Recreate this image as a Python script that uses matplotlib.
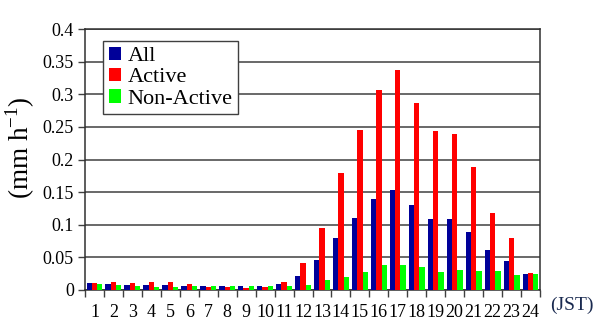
import numpy as np
import matplotlib.pyplot as plt

plt.rcParams['font.family'] = ['Liberation Serif', 'DejaVu Serif']

hours = list(range(1, 25))
all_rate = [0.011, 0.0097, 0.0082, 0.008, 0.008, 0.0066, 0.0066, 0.0066, 0.0066, 0.0066,
            0.0097, 0.0215, 0.046, 0.080, 0.110, 0.140, 0.153, 0.130, 0.109, 0.109,
            0.089, 0.062, 0.044, 0.0245]
active_rate = [0.011, 0.0128, 0.011, 0.0128, 0.0128, 0.0097, 0.005, 0.005, 0.0036, 0.005,
               0.0128, 0.042, 0.095, 0.179, 0.245, 0.307, 0.337, 0.286, 0.243, 0.239,
               0.1885, 0.118, 0.080, 0.026]
nonactive_rate = [0.0092, 0.0077, 0.0066, 0.005, 0.005, 0.0066, 0.0066, 0.0066, 0.0066, 0.0066,
                  0.0066, 0.008, 0.015, 0.020, 0.0276, 0.038, 0.038, 0.035, 0.0276, 0.0306,
                  0.029, 0.029, 0.023, 0.0245]
yticks = [0, 0.05, 0.1, 0.15, 0.2, 0.25, 0.3, 0.35, 0.4]
ytick_labels = ['0', '0.05', '0.1', '0.15', '0.2', '0.25', '0.3', '0.35', '0.4']

fig = plt.figure(figsize=(5.94, 3.21), dpi=100)
ax = fig.add_axes([85/594, 1-290/321, 455/594, 261/321])

x = np.arange(len(hours))
w = 0.28
ax.bar(x - w, all_rate, w, color='#000099', label='All', zorder=3)
ax.bar(x, active_rate, w, color='#ff0000', label='Active', zorder=3)
ax.bar(x + w, nonactive_rate, w, color='#00ff00', label='Non-Active', zorder=3)

ax.set_xlim(-0.5, len(hours) - 0.5)
ax.set_ylim(0, 0.4)
ax.set_yticks(yticks)
ax.set_yticklabels(ytick_labels, fontsize=13)
ax.yaxis.grid(True, color='#404040', linewidth=1.1, zorder=0)

# ticks between groups, labels at group centres
ax.set_xticks(np.arange(len(hours) + 1) - 0.5)
ax.set_xticklabels([])
ax.set_xticks(x, minor=True)
ax.set_xticklabels([str(h) for h in hours], minor=True, fontsize=13)
ax.tick_params(axis='x', which='minor', length=0, pad=10)
ax.tick_params(axis='x', which='major', length=5, width=1, color='#404040', direction='out')
ax.tick_params(axis='y', length=5, width=1, color='#404040', direction='out', pad=3)
for s in ax.spines.values():
    s.set_color('#303030')
    s.set_linewidth(1.1)

ax.set_ylabel('(mm h$^{\\mathregular{-1}}$)', fontsize=19.5)
ax.yaxis.set_label_coords(-0.105, 0.544)
fig.text(572/594, 1-305/321, '(JST)', fontsize=14, color='#1a2a50', ha='center', va='center')

leg = ax.legend(loc='upper left', bbox_to_anchor=(0.04, 0.954), fontsize=16,
                handlelength=0.55, handleheight=0.55, handletextpad=0.3, labelspacing=0.08,
                borderpad=0.25, borderaxespad=0, fancybox=False, framealpha=1,
                edgecolor='#404040')
leg.get_frame().set_linewidth(1)

fig.savefig('out.png', dpi=100)
